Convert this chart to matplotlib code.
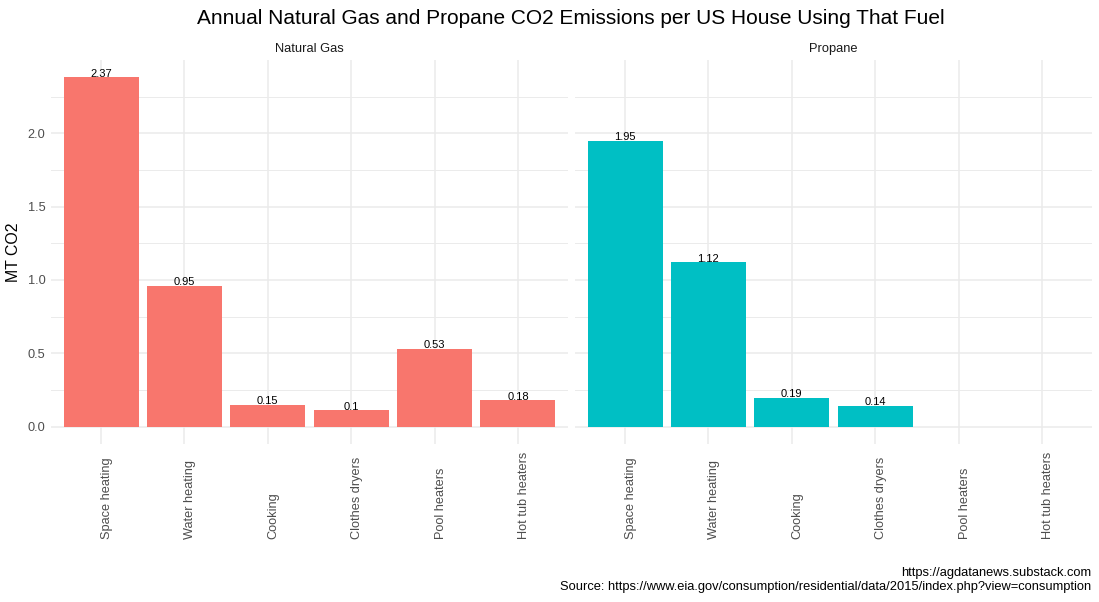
import matplotlib
matplotlib.use("Agg")
import matplotlib.pyplot as plt
import numpy as np

plt.rcParams['font.family'] = ['Liberation Sans', 'DejaVu Sans']

categories = ["Space heating", "Water heating", "Cooking", "Clothes dryers",
              "Pool heaters", "Hot tub heaters"]
natural_gas = [2.38, 0.96, 0.15, 0.11, 0.53, 0.18]
natural_gas_labels = ["2.37", "0.95", "0.15", "0.1", "0.53", "0.18"]
propane = [1.95, 1.12, 0.198, 0.143, np.nan, np.nan]
propane_labels = ["1.95", "1.12", "0.19", "0.14", "", ""]
facets = ["Natural Gas", "Propane"]
colors = ["#F8766D", "#00BFC4"]
yticks = [0.0, 0.5, 1.0, 1.5, 2.0]
yminor = [0.25, 0.75, 1.25, 1.75, 2.25]

W, H = 1099, 602
fig = plt.figure(figsize=(W / 100, H / 100), dpi=100)

def fx(px):
    return px / W

def fy(px):
    return 1 - px / H

panel_top, panel_bot = 60, 444
axes = [
    fig.add_axes([fx(51), fy(panel_bot), fx(568 - 51), (panel_bot - panel_top) / H]),
    fig.add_axes([fx(575), fy(panel_bot), fx(1092 - 575), (panel_bot - panel_top) / H]),
]

grid_col = "#EBEBEB"
data = [natural_gas, propane]
labels = [natural_gas_labels, propane_labels]
x = np.arange(1, len(categories) + 1)
for i, ax in enumerate(axes):
    vals = data[i]
    ax.set_xlim(0.4, 6.6)
    ax.set_ylim(-0.119, 2.499)
    for s in ax.spines.values():
        s.set_visible(False)
    ax.set_axisbelow(True)
    ax.set_yticks(yticks)
    ax.set_yticks(yminor, minor=True)
    ax.set_xticks(x)
    ax.grid(True, which='major', color=grid_col, linewidth=1.1)
    ax.grid(True, which='minor', axis='y', color=grid_col, linewidth=0.7)
    ax.tick_params(which='both', length=0)
    ax.bar(x, vals, width=0.9, color=colors[i])
    for xi, v, lab in zip(x, vals, labels[i]):
        if lab:
            ax.text(xi, v + 0.003, lab, ha='center', va='baseline', fontsize=8, color='black')
    ax.set_xticklabels(categories, rotation=90, va='bottom', ha='left',
                       fontsize=9.2, color='#4D4D4D')
    ax.tick_params(axis='x', pad=68.4)
    for t in ax.get_xticklabels():
        t.set_horizontalalignment('left')
    if i == 0:
        ax.set_yticklabels([f"{t:.1f}" for t in yticks], fontsize=9.2, color='#4D4D4D')
        ax.tick_params(axis='y', pad=4)
        ax.set_ylabel("MT CO2", fontsize=11.4, color='black', labelpad=5)
    else:
        ax.set_yticklabels([])
    ax.set_title(facets[i], fontsize=9.3, color='#1A1A1A', pad=6)

fig.text(fx(571), fy(18), "Annual Natural Gas and Propane CO2 Emissions per US House Using That Fuel",
         ha='center', va='center', fontsize=15, color='black')
fig.text(fx(1091), fy(573), "https://agdatanews.substack.com",
         ha='right', va='center', fontsize=9.3, color='black')
fig.text(fx(1091), fy(587), "Source: https://www.eia.gov/consumption/residential/data/2015/index.php?view=consumption",
         ha='right', va='center', fontsize=9.3, color='black')

fig.savefig("out.png", dpi=100, facecolor='white')
